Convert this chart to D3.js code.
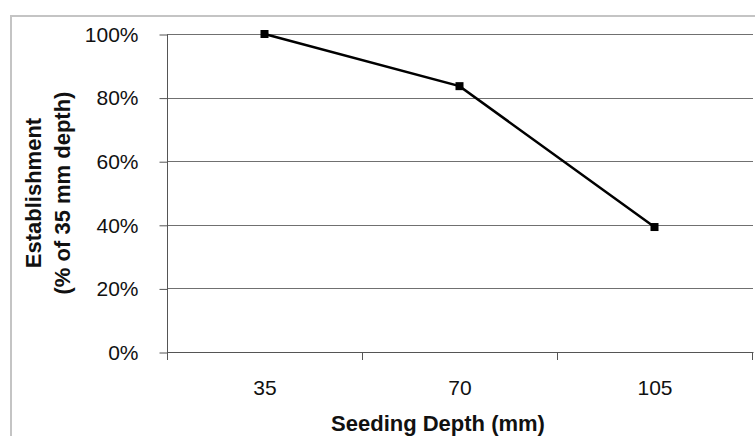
<!DOCTYPE html>
<html><head><meta charset="utf-8">
<script src="https://cdn.jsdelivr.net/npm/d3@7"></script>
<style>html,body{margin:0;padding:0;background:#fff;}svg{display:block;}</style>
</head><body>
<svg id="c" width="755" height="436"></svg>
<script>
const categories = ["35", "70", "105"];
const values = [1.00, 0.836, 0.393];
const yTicks = [0, 0.2, 0.4, 0.6, 0.8, 1.0];
const xTitle = "Seeding Depth (mm)";
const yTitle = ["Establishment", "(% of 35 mm depth)"];

const svg = d3.select("#c");
const font = "'Liberation Sans', Arial, sans-serif";
const m = {left: 167, right: 752, top: 34, bottom: 352};

svg.append("rect").attr("x", 11).attr("y", 16).attr("width", 760).attr("height", 440)
  .attr("fill", "#fff").attr("stroke", "#c4c4c4").attr("stroke-width", 2);

const x = d3.scaleBand().domain(categories).range([m.left, m.right]);
const y = d3.scaleLinear().domain([0, 1]).range([m.bottom, m.top]);

// gridlines
svg.append("g").selectAll("line").data(yTicks.filter(d => d > 0)).join("line")
  .attr("x1", m.left).attr("x2", m.right + 1)
  .attr("y1", d => Math.round(y(d)) + 0.5).attr("y2", d => Math.round(y(d)) + 0.5)
  .attr("stroke", "#707070").attr("stroke-width", 1);

// y axis
const ya = svg.append("g").attr("transform", `translate(${m.left + 0.5},0.5)`)
  .call(d3.axisLeft(y).tickValues(yTicks).tickFormat(d3.format(".0%")).tickSize(8).tickPadding(21));
ya.attr("font-size", null);
ya.selectAll("line").attr("stroke", "#555");
ya.select(".domain").attr("stroke", "#555").attr("d", `M0,${m.top}V${m.bottom}`);
ya.selectAll("text").attr("font-family", font).style("font-size", "21px").attr("fill", "#111");

// x axis
const xa = svg.append("g").attr("transform", `translate(0.5,${m.bottom + 0.5})`)
  .call(d3.axisBottom(x).tickSize(0).tickPadding(28));
xa.select(".domain").attr("stroke", "#555").attr("d", `M${m.left},0H${m.right + 1}`);
xa.selectAll("text").attr("font-family", font).style("font-size", "21px").attr("fill", "#111");
// boundary ticks between categories
const bounds = [m.left].concat(categories.map(c => x(c) + x.bandwidth()));
svg.append("g").selectAll("line").data(bounds).join("line")
  .attr("x1", d => Math.round(d) + 0.5).attr("x2", d => Math.round(d) + 0.5)
  .attr("y1", m.bottom).attr("y2", m.bottom + 8)
  .attr("stroke", "#555");

// line
const line = d3.line().x((d, i) => x(categories[i]) + x.bandwidth() / 2).y(d => y(d));
svg.append("path").datum(values).attr("d", line).attr("fill", "none")
  .attr("stroke", "#000").attr("stroke-width", 2.5);
svg.append("g").selectAll("rect").data(values).join("rect")
  .attr("x", (d, i) => x(categories[i]) + x.bandwidth() / 2 - 4)
  .attr("y", d => y(d) - 4).attr("width", 8).attr("height", 8).attr("fill", "#000");

// titles
svg.append("text").attr("x", 438).attr("y", 431).attr("text-anchor", "middle")
  .attr("font-family", font).style("font-size", "22px").attr("font-weight", "bold").attr("fill", "#111").text(xTitle);
const yt = svg.append("text").attr("transform", "translate(41,193) rotate(-90)")
  .attr("text-anchor", "middle").attr("font-family", font).style("font-size", "22px").attr("font-weight", "bold").attr("fill", "#111");
yTitle.forEach((t, i) => yt.append("tspan").attr("x", 0).attr("dy", i === 0 ? 0 : 29).text(t));
</script>
</body></html>
